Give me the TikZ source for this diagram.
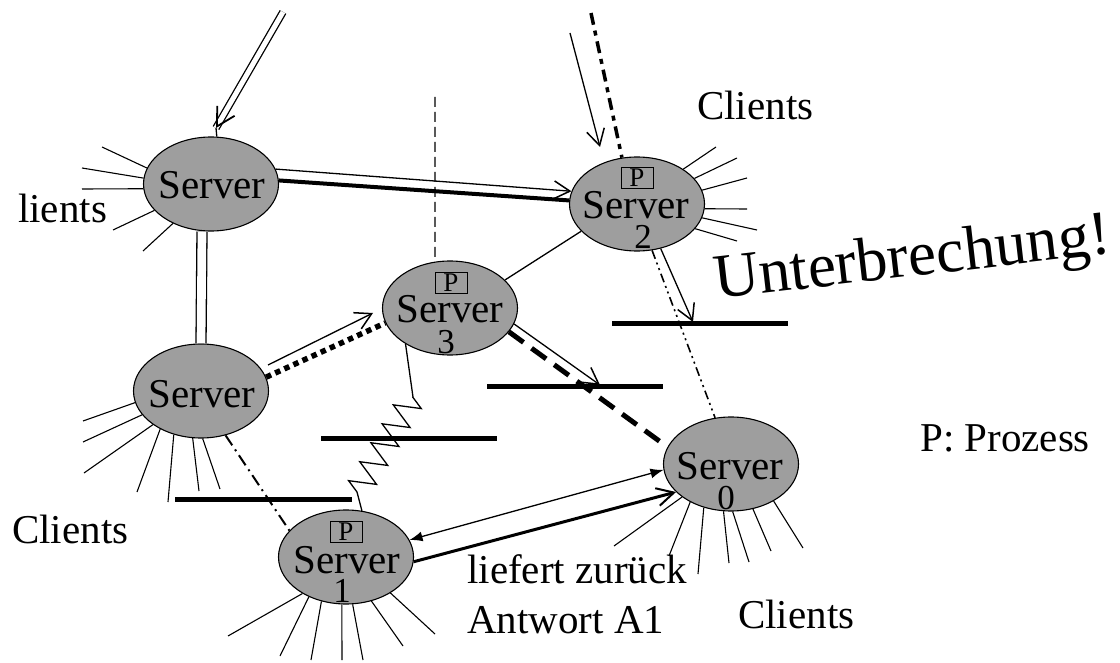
\documentclass[tikz,border=0pt]{standalone}
\usepackage{fontspec}
\setmainfont{Liberation Serif}
\usetikzlibrary{arrows.meta,decorations.pathmorphing,calc,shapes.geometric}
\begin{document}
\begin{tikzpicture}[x=1pt,y=-1pt,
  srv/.style={ellipse, draw, line width=1.1pt, fill=black!38, minimum width=135pt, minimum height=94pt, inner sep=0pt},
  txt/.style={font=\fontsize{41}{41}\selectfont, inner sep=0pt, anchor=base},
  lbl/.style={font=\fontsize{41}{41}\selectfont, inner sep=0pt, anchor=base west},
  dig/.style={font=\fontsize{35}{35}\selectfont, inner sep=0pt, anchor=base},
  pbox/.style={draw, line width=0.8pt, font=\fontsize{27}{27}\selectfont, inner sep=0pt, minimum width=32pt, minimum height=21pt},
  ray/.style={line width=1.1pt},
  cline/.style={line width=1.3pt},
  hbar/.style={line width=5pt},
  barb/.style={-{Straight Barb[length=16pt,width=18pt,line width=1.5pt]}},
]
\useasboundingbox (0,0) rectangle (1120,663);

% servers
\node[srv] (T) at (211,184) {};
\node[srv] (L) at (201,391) {};
\node[srv] (S2) at (637,204) {};
\node[srv] (S3) at (450,308) {};
\node[srv] (S1) at (346,557) {};
\node[srv] (S0) at (731,464) {};

% texts inside servers
\node[txt] (tT) at (212,199) {Server};
\node[txt] (tL) at (202,407) {Server};
\node[pbox] (p2) at (637,178) {P};
\node[txt] (t2) at (636,219) {Server};
\node[dig] (d2) at (643,249) {2};
\node[pbox] (p3) at (451,283) {P};
\node[txt] (t3) at (450,323) {Server};
\node[dig] (d3) at (446,353) {3};
\node[pbox] (p1) at (346,532) {P};
\node[txt] (t1) at (347,573) {Server};
\node[dig] (d1) at (342,602) {1};
\node[txt] (t0) at (730,479) {Server};
\node[dig] (d0) at (726,509) {0};

% client rays
\foreach \a/\x/\y in {166/102/147, 175/82/168, -176/82/189, -155/113/230, -134/143/251}
  \draw[ray] (T.\a) -- (\x,\y);
\foreach \a/\x/\y in {37/716/147, 24/737/158, 12/747/178, -4/747/209, -12/757/230, -23/737/241}
  \draw[ray] (S2.\a) -- (\x,\y);
\foreach \a/\x/\y in {-170/83/421, -158/83/442, -145/84/473, -137/137/492, -122/168/502, -100/199/491, -88/220/489}
  \draw[ray] (L.\a) -- (\x,\y);
\foreach \a/\x/\y in {-140/228/636, -133/280/656, -119/311/660, -95/342/660, -82/363/660, -60/403/646, -39/435/634}
  \draw[ray] (S1.\a) -- (\x,\y);
\foreach \a/\x/\y in {-146/614/546, -137/669/556, -122/698/574, -99/729/563, -88/749/562, -64/771/551, -41/803/548}
  \draw[ray] (S0.\a) -- (\x,\y);

% a) incoming double arrow to top server
\coordinate (aTop) at (283,12);
\coordinate (aTip) at (216,128);
\draw[cline, double, double distance=5pt] (aTop) -- (aTip);
\draw[-{Straight Barb[length=18pt,width=20pt,line width=1.8pt]}] ($(aTip)!3pt!(aTop)$) -- (aTip);
\draw[cline] (aTip) -- (T.83);

% b) top server -> server 2
\draw[cline, barb] (T.13) -- (S2.169);
\draw[line width=4pt] (T.3) -- (S2.177);

% c) top server -- left server
\draw[cline, double, double distance=8.7pt] ([xshift=-9pt]T.south) -- (L.north);

% d) left server -> server 3
\coordinate (dS) at (268,365);
\coordinate (dT) at (373,313);
\draw[cline, barb] (dS) -- (dT);
\draw[line width=5.5pt, dash pattern=on 5.5pt off 4.5pt] (L.12) -- (S3.-167);

% e) left server -- server 1
\draw[line width=2pt, dash pattern=on 12pt off 5pt on 2pt off 5pt] (L.-61) -- (S1.155);

% f) zigzag server 1 -- server 3
\coordinate (zb) at (357,492);
\coordinate (zt) at (413,397);
\draw[cline] (S1.71) -- (zb);
\draw[cline, decorate, decoration={zigzag, amplitude=13pt, segment length=22pt}] (zb) -- (zt);
\draw[cline] (zt) -- (S3.-141);

% g) server 2 -- server 3
\draw[cline] (S2.-154) -- (S3.27);

% h) dashed vertical above server 3
\coordinate (hTop) at (435,97);
\draw[cline, dash pattern=on 10pt off 5pt] (hTop) -- (S3.108);

% i) server 3 -> bar
\coordinate (iTip) at (600,385);
\draw[cline, barb] (S3.-14) -- (iTip);

% j) server 3 -- server 0 thick dashed
\draw[line width=5pt, dash pattern=on 18pt off 10pt] (S3.-22) -- (S0.165);

% k) server 2 -> bar
\coordinate (kTip) at (693,322);
\draw[cline, barb] (S2.-62) -- (kTip);

% l) server 2 -- server 0
\draw[line width=1.6pt, dash pattern=on 9pt off 4pt on 2pt off 4pt on 2pt off 4pt] (S2.-72) -- (S0.109);

% m) incoming arrow to server 2
\coordinate (mTop) at (570,33);
\coordinate (mTip) at (600,147);
\draw[cline, barb] (mTop) -- (mTip);

% n) thick dash-dot into server 2
\coordinate (nTop) at (591,13);
\draw[line width=3.5pt, dash pattern=on 12pt off 6pt on 5pt off 6pt] (nTop) -- (S2.108);

% o) server 1 <-> server 0
\draw[cline, {Latex[length=13pt,width=10pt]}-{Latex[length=13pt,width=10pt]}] (S1.15) -- (S0.-175);
\draw[line width=3pt, -{Straight Barb[length=17pt,width=18pt,line width=2pt]}] (S1.-4) -- (S0.-153);

% bars
\draw[hbar] (175,499) -- (352,499);
\draw[hbar] (321,438) -- (497,438);
\draw[hbar] (487,386) -- (663,386);
\draw[hbar] (612,324) -- (788,324);

% labels
\node[lbl] (cl1) at (697,120) {Clients};
\node[lbl] (cl2) at (18,223) {lients};
\node[lbl] (cl3) at (12,543) {Clients};
\node[lbl] (cl4) at (738,628) {Clients};
\node[lbl] (lz) at (467,583) {liefert zurück};
\node[lbl] (aa) at (467,633) {Antwort A1};
\node[lbl] (pp) at (920,451) {P: Prozess};
\node[font=\fontsize{63}{63}\selectfont, rotate=6.6, anchor=base west, inner sep=0pt] (unt) at (716,299) {Unterbrechung!};
\end{tikzpicture}
\end{document}
